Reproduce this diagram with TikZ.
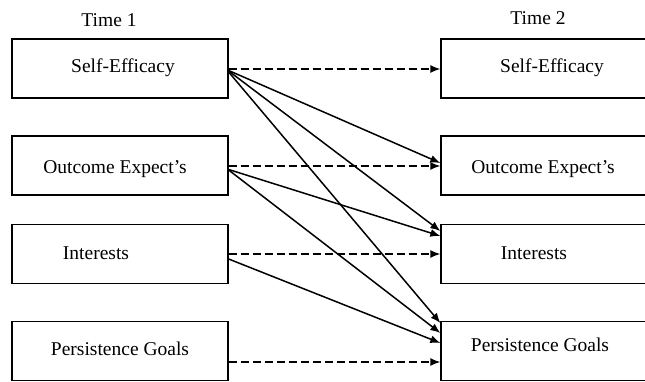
\documentclass[tikz,border=0pt]{standalone}
\usepackage{fontspec}
\setmainfont{Liberation Serif}
\usetikzlibrary{arrows.meta}
\begin{document}
\begin{tikzpicture}[x=1pt,y=-1pt,
  box/.style={draw, line width=1.3pt, minimum height=59pt, inner sep=0pt},
  lbox/.style={box, minimum width=216pt},
  rbox/.style={box, minimum width=215pt},
  lbl/.style={font=\fontsize{19.5}{22}\selectfont, inner sep=0pt},
  arr/.style={line width=1.5pt, -{Latex[length=10pt,width=8pt]}},
  dsh/.style={arr, dash pattern=on 8pt off 4pt}]
\clip (0,0) rectangle (645,381);
\fill[white] (0,0) rectangle (645,381);
% headers
\node[lbl] (t1) at (109,20) {Time 1};
\node[lbl] (t2) at (538,18) {Time 2};
% boxes
\node[lbox] (L1) at (120,68.5) {};
\node[lbox] (L2) at (120,165.5) {};
\node[lbox] (L3) at (120,254) {};
\node[lbox] (L4) at (120,351) {};
\node[rbox] (R1) at (548.5,68.5) {};
\node[rbox] (R2) at (548.5,165.5) {};
\node[rbox] (R3) at (548.5,254) {};
\node[rbox] (R4) at (548.5,351) {};
% labels
\node[lbl] (l1) at (123,68) {Self-Efficacy};
\node[lbl] (l2) at (115,169) {Outcome Expect's};
\node[lbl] (l3) at (96,253) {Interests};
\node[lbl] (l4) at (120,349) {Persistence Goals};
\node[lbl] (r1) at (552,68) {Self-Efficacy};
\node[lbl] (r2) at (543,169) {Outcome Expect's};
\node[lbl] (r3) at (534,253) {Interests};
\node[lbl] (r4) at (540,345) {Persistence Goals};
% dashed autoregressive paths
\draw[dsh] ([yshift=-0.5pt]L1.east) -- ([yshift=-0.5pt]R1.west);
\draw[dsh] ([yshift=-0.5pt]L2.east) -- ([yshift=-0.5pt]R2.west);
\draw[dsh] (L3.east) -- (R3.west);
\draw[dsh] ([yshift=-11pt]L4.east) -- ([yshift=-11pt]R4.west);
% cross-lagged paths
\draw[arr] ([yshift=-2pt]L1.east) -- ([yshift=2.5pt]R2.west);
\draw[arr] ([yshift=-2.5pt]L1.east) -- ([yshift=23pt]R3.west);
\draw[arr] ([yshift=-3.5pt]L1.east) -- ([yshift=28pt]R4.west);
\draw[arr] ([yshift=-4pt]L2.east) -- ([yshift=18pt]R3.west);
\draw[arr] ([yshift=-4.5pt]L2.east) -- ([yshift=18pt]R4.west);
\draw[arr] ([yshift=-5pt]L3.east) -- ([yshift=8pt]R4.west);
\end{tikzpicture}
\end{document}
